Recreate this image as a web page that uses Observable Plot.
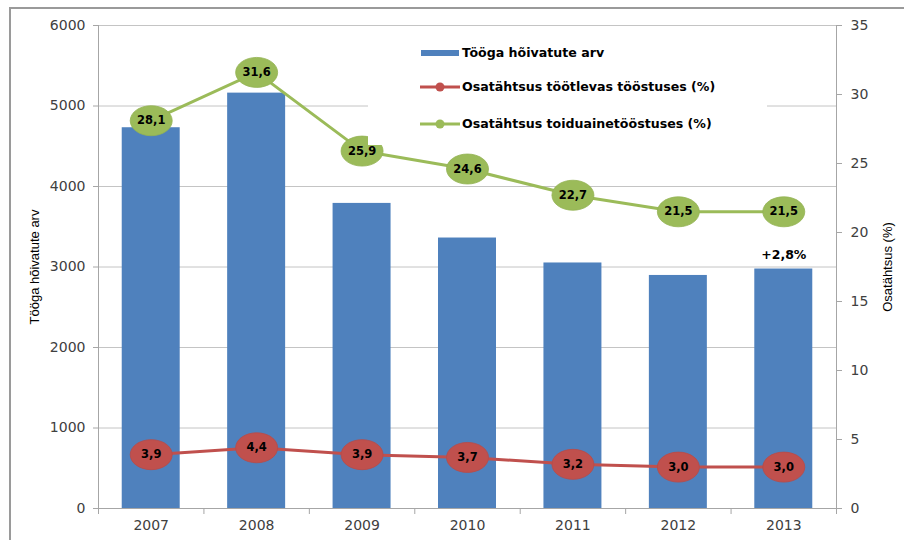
<!DOCTYPE html>
<html>
<head>
<meta charset="utf-8">
<script src="https://cdn.jsdelivr.net/npm/d3@7"></script>
<script src="https://cdn.jsdelivr.net/npm/@observablehq/plot@0.6"></script>
<style>
  html, body { margin: 0; padding: 0; background: #fff; }
  #wrap { position: relative; width: 904px; height: 540px; overflow: hidden; background: #fff; }
  #frame { position: absolute; left: 9px; top: 7px; width: 900px; height: 540px;
           border-left: 2px solid #9a9a9a; border-top: 2px solid #9a9a9a; pointer-events: none; }
  #legend { position: absolute; left: 368px; top: 30px; width: 399px; height: 115px; background: #fff;
            font-family: "DejaVu Sans", Verdana, sans-serif; font-weight: bold; font-size: 12.6px; color: #000; }
  .item { position: absolute; left: 0; height: 20px; width: 399px; }
  .sw { position: absolute; left: 52px; top: 0; }
  .lbl { position: absolute; left: 94px; top: 2px; white-space: nowrap; }
</style>
</head>
<body>
<div id="wrap">
  <div id="chart"></div>
  <div id="legend">
    <div class="item" style="top:13px">
      <svg class="sw" width="40" height="20"><rect x="1" y="7" width="38" height="6" fill="#4F81BD"/></svg>
      <span class="lbl" id="l1"></span>
    </div>
    <div class="item" style="top:47px">
      <svg class="sw" width="40" height="20"><line x1="0" y1="10" x2="40" y2="10" stroke="#C0504D" stroke-width="3"/><circle cx="20" cy="10" r="4.5" fill="#C0504D"/></svg>
      <span class="lbl" id="l2"></span>
    </div>
    <div class="item" style="top:84px">
      <svg class="sw" width="40" height="20"><line x1="0" y1="10" x2="40" y2="10" stroke="#9BBB59" stroke-width="3"/><circle cx="20" cy="10" r="4.5" fill="#9BBB59"/></svg>
      <span class="lbl" id="l3"></span>
    </div>
  </div>
  <div id="frame"></div>
</div>
<script>
// ---- data ----
const years = [2007, 2008, 2009, 2010, 2011, 2012, 2013];
const employed = [4730, 5160, 3790, 3360, 3050, 2895, 2975];
const shareManufacturing = [3.9, 4.4, 3.9, 3.7, 3.2, 3.0, 3.0];
const shareFood = [28.1, 31.6, 25.9, 24.6, 22.7, 21.5, 21.5];
const leftTicks = [0, 1000, 2000, 3000, 4000, 5000, 6000];
const rightTicks = [0, 5, 10, 15, 20, 25, 30, 35];
const changeLabel = "+2,8%";
const seriesNames = ["Tööga hõivatute arv", "Osatähtsus töötlevas tööstuses (%)", "Osatähtsus toiduainetööstuses (%)"];
const leftTitle = "Tööga hõivatute arv";
const rightTitle = "Osatähtsus (%)";

document.getElementById("l1").textContent = seriesNames[0];
document.getElementById("l2").textContent = seriesNames[1];
document.getElementById("l3").textContent = seriesNames[2];

const leftMax = 6000, rightMax = 35;
const k = leftMax / rightMax; // map percent onto left scale
const fmt = v => v.toFixed(1).replace(".", ",");
const boundaries = years.map(y => y - 0.5).concat([years[years.length - 1] + 0.5]);
const half = 0.275;

const ellipse = {
  draw(ctx, size) {
    const r = Math.sqrt(size / Math.PI);
    const rx = r * 1.4, ry = r;
    const kx = rx * 0.5523, ky = ry * 0.5523;
    ctx.moveTo(rx, 0);
    ctx.bezierCurveTo(rx, ky, kx, ry, 0, ry);
    ctx.bezierCurveTo(-kx, ry, -rx, ky, -rx, 0);
    ctx.bezierCurveTo(-rx, -ky, -kx, -ry, 0, -ry);
    ctx.bezierCurveTo(kx, -ry, rx, -ky, rx, 0);
    ctx.closePath();
  }
};

const axisGray = "#a6a6a6";
const gridGray = "#c4c4c4";
const font = "DejaVu Sans, Verdana, sans-serif";
const narrow = "'Liberation Sans Narrow', 'Arial Narrow', sans-serif";

const chart = Plot.plot({
  width: 904,
  height: 540,
  marginLeft: 98,
  marginRight: 68,
  marginTop: 25,
  marginBottom: 32,
  x: {domain: [boundaries[0], boundaries[boundaries.length - 1]]},
  y: {domain: [0, leftMax]},
  style: {fontFamily: font, fontSize: "14px", color: "#404040", background: "transparent", overflow: "visible"},
  marks: [
    Plot.ruleY(leftTicks, {stroke: gridGray, strokeWidth: 1}),
    Plot.rect(years, {
      x1: years.map(y => y - half), x2: years.map(y => y + half),
      y1: 0, y2: employed, fill: "#4F81BD"
    }),
    Plot.ruleX([boundaries[0], boundaries[boundaries.length - 1]], {stroke: axisGray, strokeWidth: 1}),
    Plot.ruleY([0], {stroke: axisGray, strokeWidth: 1}),
    Plot.axisY({ticks: leftTicks, tickFormat: d => String(d), tickSize: 5, tickPadding: 8, label: null,
      stroke: axisGray, strokeOpacity: 1, fill: "#404040", fontSize: 14}),
    Plot.axisY({anchor: "right", ticks: rightTicks.map(v => v * k), tickFormat: d => String(Math.round(d / k)),
      tickSize: 5, tickPadding: 9, label: null, stroke: axisGray, strokeOpacity: 1, fill: "#404040", fontSize: 14}),
    Plot.axisX({ticks: boundaries, tickSize: 6, tickFormat: () => "", label: null, stroke: axisGray, strokeOpacity: 1}),
    Plot.axisX({ticks: years, tickSize: 0, tickPadding: 12, tickFormat: d => String(d), label: null, fill: "#404040", fontSize: 14}),
    // lines
    Plot.line(years, {x: years, y: shareManufacturing.map(v => v * k), stroke: "#C0504D", strokeWidth: 3}),
    Plot.line(years, {x: years, y: shareFood.map(v => v * k), stroke: "#9BBB59", strokeWidth: 3}),
    // ellipse markers
    Plot.dot(years, {x: years, y: shareManufacturing.map(v => v * k), symbol: ellipse, r: 15, fill: "#C0504D", stroke: "#b84a47", strokeWidth: 0.8}),
    Plot.dot(years, {x: years, y: shareFood.map(v => v * k), symbol: ellipse, r: 15, fill: "#9BBB59", stroke: "#93b253", strokeWidth: 0.8}),
    Plot.text(years, {x: years, y: shareManufacturing.map(v => v * k), text: shareManufacturing.map(fmt),
      fill: "#000", fontWeight: "bold", fontSize: 11.5}),
    Plot.text(years, {x: years, y: shareFood.map(v => v * k), text: shareFood.map(fmt),
      fill: "#000", fontWeight: "bold", fontSize: 11.5}),
    Plot.text([changeLabel], {x: [years[years.length - 1]], y: [employed[employed.length - 1]], dy: -14,
      text: d => d, fill: "#000", fontWeight: "bold", fontSize: 12.5}),
    // axis titles
    Plot.text([leftTitle], {frameAnchor: "left", dx: -64, rotate: -90, textAnchor: "middle", text: d => d,
      fill: "#000", fontFamily: narrow, fontSize: 13}),
    Plot.text([rightTitle], {frameAnchor: "right", dx: 51, rotate: -90, textAnchor: "middle", text: d => d,
      fill: "#000", fontFamily: narrow, fontSize: 13})
  ]
});
document.getElementById("chart").appendChild(chart);
</script>
</body>
</html>
